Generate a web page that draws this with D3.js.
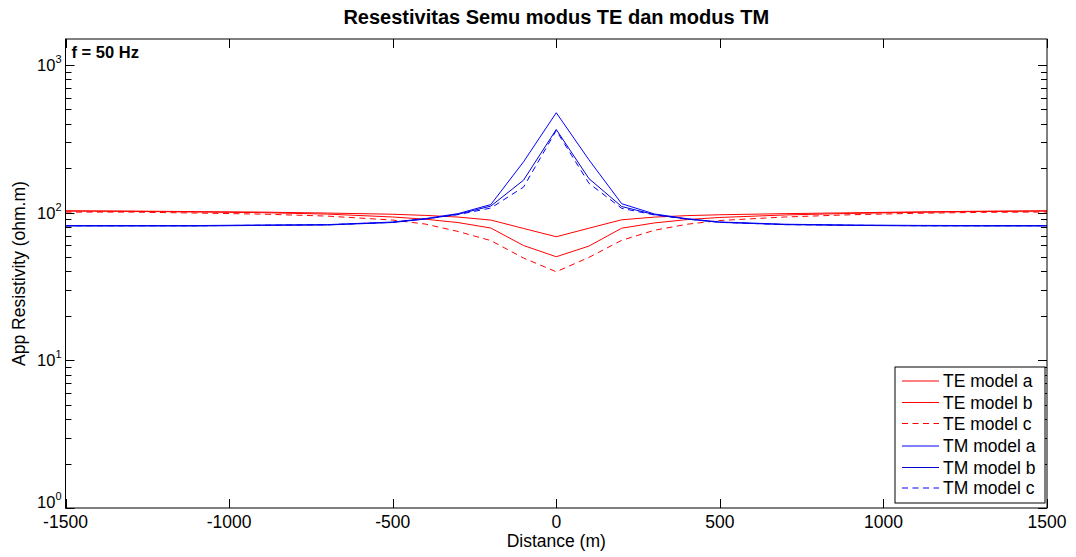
<!DOCTYPE html>
<html>
<head>
<meta charset="utf-8">
<script src="https://cdn.jsdelivr.net/npm/d3@7"></script>
<style>
  body { margin: 0; background: #fff; }
  svg { display: block; font-family: "Liberation Sans", Arial, sans-serif; }
</style>
</head>
<body>
<div id="chart"></div>
<script>
// distance along profile (m)
const distance = [-1500, -1300, -1100, -900, -700, -500, -400, -300, -200, -100, 0,
  100, 200, 300, 400, 500, 700, 900, 1100, 1300, 1500];

// apparent resistivity (ohm.m)
const teModelA = [103, 102.5, 101.7, 100.9, 99.4, 97.6, 95.8, 93.4, 89.1, 78.2, 68.7,
  78.5, 89.5, 93.3, 95.5, 96.8, 98.5, 99.8, 101.2, 102.3, 103];
const teModelB = [102.5, 102, 101, 100, 97.8, 93.5, 90.3, 85.7, 78.7, 59.9, 50.3,
  59.4, 78.5, 85.2, 89.8, 92.8, 96.5, 98.8, 100.5, 101.8, 102.5];
const teModelC = [100.9, 100.9, 99.4, 97.8, 94.8, 89.1, 83.7, 74.6, 64.7, 49.3, 39.8,
  49.8, 65, 76, 83.5, 88.5, 93.5, 96.8, 99, 100.5, 101];
const tmModelA = [81.8, 81.8, 81.8, 82.5, 83, 86.4, 91.2, 98.5, 113.5, 221, 475,
  228, 115, 98, 91, 86.5, 83.5, 82.5, 82, 81.8, 81.8];
const tmModelB = [81.2, 81.2, 81.2, 82, 82.5, 85.8, 90.5, 97.5, 110.8, 166, 366,
  170, 110, 97, 90.5, 86, 83, 82, 81.4, 81.2, 81.2];
const tmModelC = [81.5, 81.5, 81.5, 82.2, 82.8, 86, 90.8, 97, 107.5, 149, 360,
  158, 107, 96.5, 90.5, 86, 83, 82.2, 81.6, 81.5, 81.5];

const seriesNames = ['TE model a', 'TE model b', 'TE model c', 'TM model a', 'TM model b', 'TM model c'];
const seriesValues = [teModelA, teModelB, teModelC, tmModelA, tmModelB, tmModelC];
const seriesColors = ['#ff0000', '#ff0000', '#ff0000', '#0000ff', '#0000d0', '#0000ff'];
const seriesDash = [null, null, '6,4.5', null, null, '6,4.5'];

const xTicks = [-1500, -1000, -500, 0, 500, 1000, 1500];
const yDecades = [1, 10, 100, 1000];

const width = 1076;
const height = 557;
const margin = { left: 65.5, right: 29, top: 39, bottom: 49 };

const svg = d3.select('#chart').append('svg')
  .attr('width', width)
  .attr('height', height);

const x = d3.scaleLinear()
  .domain([-1500, 1500])
  .range([margin.left, width - margin.right]);

const y = d3.scaleLog()
  .domain([1, 1500])
  .range([height - margin.bottom, margin.top]);

const x0 = x.range()[0];
const x1 = x.range()[1];
const y0 = y.range()[0];
const y1 = y.range()[1];

// minor log ticks
const yMinor = [];
yDecades.forEach((d) => {
  for (let k = 2; k <= 9; k += 1) {
    if (d * k <= 1500) yMinor.push(d * k);
  }
});

// plot lines
svg.append('clipPath').attr('id', 'clip')
  .append('rect')
  .attr('x', x0).attr('y', y1)
  .attr('width', x1 - x0).attr('height', y0 - y1);

const line = d3.line()
  .x((d) => x(d[0]))
  .y((d) => y(d[1]));

const plot = svg.append('g').attr('clip-path', 'url(#clip)');
seriesValues.forEach((vals, i) => {
  plot.append('path')
    .datum(distance.map((dx, j) => [dx, vals[j]]))
    .attr('fill', 'none')
    .attr('stroke', seriesColors[i])
    .attr('stroke-width', 1)
    .attr('stroke-dasharray', seriesDash[i])
    .attr('d', line);
});

// ticks (inward, all four sides)
const ticks = svg.append('g').attr('stroke', '#000').attr('stroke-width', 1);
xTicks.forEach((t) => {
  const px = Math.round(x(t)) + 0.5;
  ticks.append('line').attr('x1', px).attr('x2', px).attr('y1', y0).attr('y2', y0 - 9);
  ticks.append('line').attr('x1', px).attr('x2', px).attr('y1', y1).attr('y2', y1 + 9);
});
yDecades.concat(yMinor).forEach((t) => {
  const py = Math.round(y(t)) + 0.5;
  const len = yDecades.includes(t) ? 9 : 6;
  ticks.append('line').attr('x1', x0).attr('x2', x0 + len).attr('y1', py).attr('y2', py);
  ticks.append('line').attr('x1', x1).attr('x2', x1 - len).attr('y1', py).attr('y2', py);
});

// axes box
svg.append('rect')
  .attr('x', x0).attr('y', y1)
  .attr('width', x1 - x0).attr('height', y0 - y1)
  .attr('fill', 'none')
  .attr('stroke', '#000')
  .attr('stroke-width', 1);

// x tick labels
svg.append('g').selectAll('text')
  .data(xTicks)
  .join('text')
  .attr('x', (d) => x(d))
  .attr('y', y0 + 20)
  .attr('text-anchor', 'middle')
  .attr('font-size', 17.5)
  .text((d) => d);

// y tick labels 10^n
const yl = svg.append('g').selectAll('text')
  .data(yDecades)
  .join('text')
  .attr('x', x0 - 4)
  .attr('y', (d) => y(d) + (d === 1 ? 0 : 6))
  .attr('text-anchor', 'end')
  .attr('font-size', 16.5);
yl.append('tspan').text('10');
yl.append('tspan')
  .attr('font-size', 11)
  .attr('dy', -8)
  .text((d) => Math.round(Math.log10(d)));

// title and axis labels
svg.append('text')
  .attr('x', (x0 + x1) / 2)
  .attr('y', 24)
  .attr('text-anchor', 'middle')
  .attr('font-size', 20)
  .attr('font-weight', 'bold')
  .text('Resestivitas Semu modus TE dan modus TM');

svg.append('text')
  .attr('x', (x0 + x1) / 2)
  .attr('y', 547)
  .attr('text-anchor', 'middle')
  .attr('font-size', 17.5)
  .text('Distance (m)');

svg.append('text')
  .attr('transform', `translate(25,${(y0 + y1) / 2}) rotate(-90)`)
  .attr('text-anchor', 'middle')
  .attr('font-size', 17.5)
  .text('App Resistivity (ohm.m)');

svg.append('text')
  .attr('x', x0 + 6)
  .attr('y', 58)
  .attr('font-size', 16.5)
  .attr('font-weight', 'bold')
  .text('f = 50 Hz');

// legend
const legendRowY = [14, 35.5, 56.5, 79, 100.5, 121];
const legend = svg.append('g').attr('transform', 'translate(895,367)');
legend.append('rect')
  .attr('width', 150).attr('height', 136)
  .attr('fill', '#fff')
  .attr('stroke', '#000');
const rows = legend.selectAll('g.row')
  .data(seriesNames)
  .join('g')
  .attr('class', 'row')
  .attr('transform', (d, i) => `translate(0,${legendRowY[i]})`);
rows.append('line')
  .attr('x1', 7).attr('x2', 44)
  .attr('stroke', (d, i) => seriesColors[i])
  .attr('stroke-dasharray', (d, i) => seriesDash[i]);
rows.append('text')
  .attr('x', 48)
  .attr('y', 6)
  .attr('font-size', 17.5)
  .text((d) => d);
</script>
</body>
</html>
